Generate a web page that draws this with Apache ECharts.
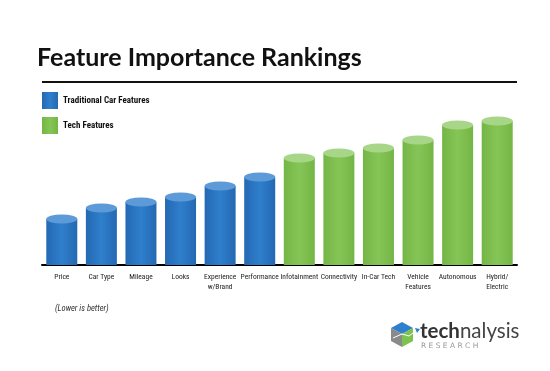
<!DOCTYPE html>
<html>
<head>
<meta charset="utf-8">
<script src="https://cdn.jsdelivr.net/npm/echarts@6/dist/echarts.min.js"></script>
<style>html,body{margin:0;padding:0;background:#fff}#c{width:550px;height:371px}</style>
</head>
<body>
<div id="c"></div>
<script>
// ---- data ----
var categories = ['Price','Car Type','Mileage','Looks','Experience\nw/Brand','Performance','Infotainment','Connectivity','In-Car Tech','Vehicle\nFeatures','Autonomous','Hybrid/\nElectric'];
var traditionalValues = [4.6, 5.7, 6.3, 6.8, 7.9, 8.8, '-', '-', '-', '-', '-', '-'];
var techValues = ['-', '-', '-', '-', '-', '-', 10.7, 11.2, 11.7, 12.5, 14.0, 14.4];
var seriesNames = ['Traditional Car Features', 'Tech Features'];
var titleText = 'Feature Importance Rankings';
var noteText = '(Lower is better)';

var NARROW = "'Liberation Sans Narrow','Roboto Condensed','DejaVu Sans Condensed',sans-serif";
var BW = 31;
function grad(edge, mid) {
  return new echarts.graphic.LinearGradient(0,0,1,0,[
    {offset:0,color:edge},{offset:0.5,color:mid},{offset:1,color:edge}]);
}
var blueBody = grad('#2468b3', '#2f7fcc');
var greenBody = grad('#74b645', '#85c557');
var blueTop = '#5d9bd8';
var greenTop = '#a7d688';

var chart = echarts.init(document.getElementById('c'), null, {renderer:'canvas'});
chart.setOption({
  animation:false,
  backgroundColor:'#fff',
  title:{text:titleText,left:37,top:45,padding:[0,0,0,0],textStyle:{fontFamily:'Lato',fontWeight:'bold',fontSize:25,color:'#111'}},
  legend:{
    orient:'vertical',left:42,top:92,itemWidth:16,itemHeight:17,itemGap:8,icon:'rect',padding:0,
    data:seriesNames,
    textStyle:{fontFamily:NARROW,fontWeight:'bold',fontSize:9,color:'#111'}
  },
  grid:{left:42,right:33,top:105,bottom:106,containLabel:false},
  xAxis:{
    type:'category',data:categories,
    axisLine:{lineStyle:{color:'#000',width:2}},
    axisTick:{show:false},
    axisLabel:{interval:0,fontFamily:NARROW,fontSize:7.5,color:'#222',margin:7,lineHeight:10}
  },
  yAxis:{type:'value',min:0,max:16,show:false,splitLine:{show:false}},
  series:[
    {name:seriesNames[0],type:'bar',stack:'s',data:traditionalValues,barWidth:BW,barGap:'-100%',
     itemStyle:{color:blueBody},z:2},
    {name:seriesNames[1],type:'bar',stack:'s',data:techValues,barWidth:BW,barGap:'-100%',
     itemStyle:{color:greenBody},z:2},
    {type:'pictorialBar',data:traditionalValues,symbol:'circle',symbolSize:[BW,9],symbolPosition:'end',
     symbolOffset:[0,'-50%'],barGap:'-100%',barWidth:BW,itemStyle:{color:blueTop},z:5,silent:true},
    {type:'pictorialBar',data:techValues,symbol:'circle',symbolSize:[BW,9],symbolPosition:'end',
     symbolOffset:[0,'-50%'],barGap:'-100%',barWidth:BW,itemStyle:{color:greenTop},z:5,silent:true}
  ],
  graphic:[
    {type:'line',shape:{x1:42,y1:82,x2:517,y2:82},style:{stroke:'#111',lineWidth:2}},
    {type:'text',left:55,top:304,style:{text:noteText,font:"italic 8.5px "+NARROW,fill:'#333'}},
    // logo cube
    {type:'polygon',shape:{points:[[402,322],[413,328],[402,334],[391,328]]},style:{fill:'#2f7fcc'}},
    {type:'polygon',shape:{points:[[391,328],[402,334],[402,347],[391,341]]},style:{fill:'#8a8a8a'}},
    {type:'polygon',shape:{points:[[402,334],[413,328],[413,341],[402,347]]},style:{fill:'#7cc24f'}},
    {type:'polyline',shape:{points:[[393,338],[402,334],[409,336],[417,330]]},style:{stroke:'#fff',lineWidth:1,fill:null}},
    {type:'polygon',shape:{points:[[415,328],[420,329],[417,333]]},style:{fill:'#2f7fcc'}},
    {type:'text',left:420,top:321,style:{
      text:'{a|tech}{b|nalysis}',
      rich:{a:{fontFamily:'Lato',fontWeight:'bold',fontSize:20.5,fill:'#333',color:'#333'},
            b:{fontFamily:'Lato',fontSize:20.5,fill:'#444',color:'#444'}}}},
    {type:'text',left:421,top:342,style:{text:'R E S E A R C H',font:"7.5px 'DejaVu Sans'",fill:'#999'}}
  ]
});
</script>
</body>
</html>
